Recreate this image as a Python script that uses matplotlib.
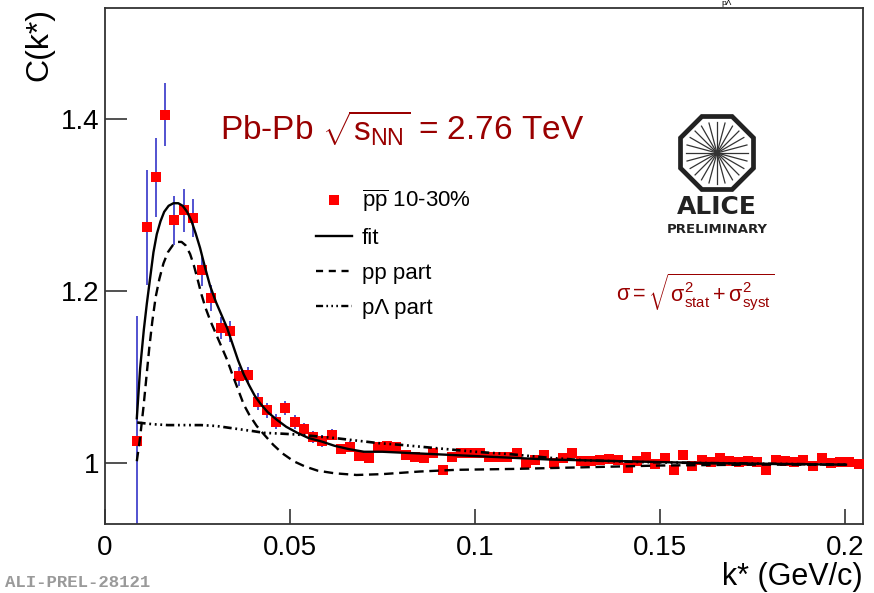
import numpy as np
import matplotlib
matplotlib.use("Agg")
import matplotlib.pyplot as plt
from matplotlib.lines import Line2D
from matplotlib.patches import RegularPolygon

plt.rcParams['font.family'] = ['Liberation Sans', 'DejaVu Sans']
plt.rcParams['mathtext.fontset'] = 'custom'
plt.rcParams['mathtext.rm'] = 'Liberation Sans'
plt.rcParams['mathtext.it'] = 'Liberation Sans:italic'
plt.rcParams['mathtext.bf'] = 'Liberation Sans:bold'

# --- datos ---
k_data = [0.00875, 0.01125, 0.01375, 0.01625, 0.01875, 0.02125, 0.02375, 0.02625, 0.02875, 0.03125,
          0.03375, 0.03625, 0.03875, 0.04125, 0.04375, 0.04625, 0.04875, 0.05125, 0.05375, 0.05625,
          0.05875, 0.06125, 0.06375, 0.06625, 0.06875, 0.07125, 0.07375, 0.07625, 0.07875, 0.08125,
          0.08375, 0.08625, 0.08875, 0.09125, 0.09375, 0.09625, 0.09875, 0.10125, 0.10375, 0.10625,
          0.10875, 0.11125, 0.11375, 0.11625, 0.11875, 0.12125, 0.12375, 0.12625, 0.12875, 0.13125,
          0.13375, 0.13625, 0.13875, 0.14125, 0.14375, 0.14625, 0.14875, 0.15125, 0.15375, 0.15625,
          0.15875, 0.16125, 0.16375, 0.16625, 0.16875, 0.17125, 0.17375, 0.17625, 0.17875, 0.18125,
          0.18375, 0.18625, 0.18875, 0.19125, 0.19375, 0.19625, 0.19875, 0.20125, 0.20375]
c_data = [1.025, 1.274, 1.332, 1.405, 1.282, 1.294, 1.285, 1.224, 1.192, 1.157,
          1.153, 1.101, 1.102, 1.071, 1.061, 1.048, 1.064, 1.048, 1.040, 1.030,
          1.026, 1.033, 1.016, 1.019, 1.0085, 1.0055, 1.018, 1.020, 1.019, 1.009,
          1.007, 1.0055, 1.011, 0.992, 1.007, 1.011, 1.011, 1.011, 1.007, 1.0066,
          1.007, 1.011, 1.000, 1.004, 1.009, 1.000, 1.0055, 1.011, 1.002, 1.002,
          1.004, 1.005, 1.0035, 0.994, 1.002, 1.007, 0.999, 1.0055, 0.992, 1.009,
          0.997, 1.0035, 1.001, 1.0055, 1.002, 1.001, 1.002, 1.001, 0.992, 1.003,
          1.002, 1.001, 1.004, 0.997, 1.006, 1.000, 1.001, 1.001, 0.999]
c_err = [0.146, 0.067, 0.046, 0.037, 0.028, 0.025, 0.022, 0.018, 0.015, 0.013,
         0.012, 0.011, 0.010, 0.010, 0.009, 0.009, 0.008, 0.008, 0.007, 0.007,
         0.007, 0.006, 0.006, 0.006, 0.006, 0.006, 0.005, 0.005, 0.005, 0.005,
         0.005, 0.005, 0.005, 0.005, 0.005, 0.005, 0.005, 0.005, 0.005, 0.005,
         0.005, 0.005, 0.005, 0.005, 0.005, 0.005, 0.005, 0.005, 0.005, 0.005,
         0.005, 0.005, 0.005, 0.005, 0.005, 0.005, 0.005, 0.005, 0.005, 0.005,
         0.005, 0.005, 0.005, 0.005, 0.005, 0.005, 0.005, 0.005, 0.005, 0.005,
         0.005, 0.005, 0.005, 0.005, 0.005, 0.005, 0.005, 0.005, 0.005]

# ajuste total
fit_k = [0.0086, 0.0095, 0.0105, 0.0113, 0.0122, 0.0131, 0.0140, 0.0150, 0.0160, 0.0172,
         0.0185, 0.0198, 0.0210, 0.0222, 0.0234, 0.0245, 0.0257, 0.0270, 0.0284, 0.0300,
         0.0315, 0.0330, 0.0345, 0.0360, 0.0375, 0.0390, 0.0405, 0.0420, 0.0440, 0.0465,
         0.0490, 0.0520, 0.0550, 0.0585, 0.0620, 0.0660, 0.0700, 0.0750, 0.0800, 0.0900,
         0.1000, 0.1100, 0.1200, 0.1400, 0.1600, 0.1800, 0.2003]
fit_c = [1.052, 1.110, 1.155, 1.185, 1.215, 1.245, 1.266, 1.281, 1.292, 1.299,
         1.302, 1.302, 1.299, 1.292, 1.281, 1.267, 1.250, 1.228, 1.206, 1.187,
         1.172, 1.157, 1.138, 1.119, 1.103, 1.090, 1.078, 1.069, 1.059, 1.050,
         1.042, 1.035, 1.029, 1.025, 1.020, 1.016, 1.013, 1.013, 1.012, 1.010,
         1.008, 1.006, 1.004, 1.002, 1.000, 0.999, 0.998]

# parte pp
pp_k = [0.0086, 0.0095, 0.0104, 0.0112, 0.0120, 0.0128, 0.0137, 0.0147, 0.0158, 0.0170,
        0.0183, 0.0196, 0.0207, 0.0218, 0.0230, 0.0240, 0.0250, 0.0260, 0.0272, 0.0285,
        0.0300, 0.0315, 0.0330, 0.0345, 0.0360, 0.0375, 0.0390, 0.0410, 0.0430, 0.0455,
        0.0480, 0.0510, 0.0540, 0.0575, 0.0620, 0.0680, 0.0750, 0.0850, 0.0950, 0.1100,
        0.1300, 0.1500, 0.1750, 0.2003]
pp_c = [1.002, 1.030, 1.065, 1.100, 1.135, 1.165, 1.193, 1.214, 1.232, 1.245,
        1.253, 1.257, 1.257, 1.253, 1.243, 1.230, 1.214, 1.197, 1.180, 1.165,
        1.150, 1.135, 1.120, 1.102, 1.085, 1.068, 1.056, 1.043, 1.033, 1.021,
        1.011, 1.002, 0.996, 0.991, 0.988, 0.986, 0.987, 0.990, 0.992, 0.993,
        0.995, 0.997, 0.998, 0.998]

# parte pLambda
pl_k = [0.0087, 0.0130, 0.0170, 0.0210, 0.0260, 0.0300, 0.0350, 0.0400, 0.0430, 0.0480,
        0.0520, 0.0570, 0.0620, 0.0680, 0.0740, 0.0800, 0.0900, 0.1000, 0.1100, 0.1200,
        0.1300, 0.1450, 0.1600, 0.1800, 0.2003]
pl_c = [1.047, 1.045, 1.044, 1.044, 1.044, 1.043, 1.040, 1.037, 1.035, 1.034,
        1.033, 1.031, 1.029, 1.026, 1.023, 1.021, 1.017, 1.013, 1.010, 1.006,
        1.003, 1.001, 1.000, 0.999, 0.998]

x_ticks = [0, 0.05, 0.1, 0.15, 0.2]
x_ticklabels = ["0", "0.05", "0.1", "0.15", "0.2"]
y_ticks = [1.0, 1.2, 1.4]
y_ticklabels = ["1", "1.2", "1.4"]

W, H = 874, 593
fig = plt.figure(figsize=(W / 100, H / 100), dpi=100)
ax = fig.add_axes([105 / W, 1 - 524 / H, 758 / W, 516 / H])

dark_red = "#990000"
frame = "#333333"

ax.errorbar(k_data, c_data, yerr=c_err, fmt="none", ecolor="#3535c8", elinewidth=1.2, capsize=0, zorder=2)
ax.plot(k_data, c_data, "s", color="#ff0000", markersize=7, markeredgewidth=0, zorder=3)

pp_style = (0, (4, 2.4))
pl_style = (0, (3.2, 1.4, 0.7, 1.4, 0.7, 1.4, 0.7, 1.4))
ax.plot(fit_k, fit_c, "-", color="black", lw=1.7, zorder=4)
ax.plot(pp_k, pp_c, color="black", lw=1.7, linestyle=pp_style, zorder=4)
ax.plot(pl_k, pl_c, color="black", lw=1.9, linestyle=pl_style, zorder=4)

ax.set_xlim(0, 0.2049)
ax.set_ylim(0.929, 1.529)
ax.set_xticks(x_ticks)
ax.set_xticklabels(x_ticklabels)
ax.set_yticks(y_ticks)
ax.set_yticklabels(y_ticklabels)
ax.tick_params(axis="both", direction="in", labelsize=20, colors=frame, labelcolor="black", width=1.2)
ax.tick_params(axis="x", length=11, pad=8)
ax.tick_params(axis="y", length=16, pad=4)
ax.minorticks_off()
for s in ax.spines.values():
    s.set_color(frame)
    s.set_linewidth(1.3)

ax.set_xlabel("k* (GeV/c)", fontsize=22, loc="right", labelpad=1)
ax.set_ylabel("C(k*)", fontsize=23, loc="top", labelpad=5)

# leyenda
handles = [
    Line2D([], [], marker="s", color="#ff0000", linestyle="none", markersize=7, markeredgewidth=0),
    Line2D([], [], color="black", lw=1.7),
    Line2D([], [], color="black", lw=1.7, linestyle=(0, (3, 2.4))),
    Line2D([], [], color="black", lw=1.7, linestyle=(0, (3, 1.4, 0.7, 1.4, 0.7, 1.4, 0.7, 1.4))),
]
labels = [r"$\overline{\mathrm{pp}}$ 10-30%", "fit", "pp part", "pΛ part"]
fig.legend(handles, labels, loc="upper left", bbox_to_anchor=(316 / W, 1 - 188 / H),
           bbox_transform=fig.transFigure, frameon=False, fontsize=16, borderpad=0,
           borderaxespad=0, handlelength=1.6, handletextpad=0.45, labelspacing=0.62)

# textos
fig.text(220 / W, 1 - 128 / H, r"Pb-Pb $\sqrt{\mathrm{s}_{\mathrm{NN}}}$ = 2.76 TeV",
         color=dark_red, fontsize=24, ha="left", va="center")
fig.text(616 / W, 1 - 292 / H,
         r"$\mathrm{σ} = \sqrt{\mathrm{σ}^{2}_{\mathrm{stat}} + \mathrm{σ}^{2}_{\mathrm{syst}}}$",
         color=dark_red, fontsize=15.5, ha="left", va="center")
fig.text(5 / W, 3 / H, "ALI-PREL-28121", color="#9a9a9a", fontsize=12.5,
         family="Liberation Mono", fontweight="bold", ha="left", va="bottom")
fig.text(727 / W, 1.0, "pΛ", color="black", fontsize=6, ha="center", va="top")

# logo ALICE
logo = fig.add_axes([(717 - 48) / W, 1 - (153 + 48) / H, 96 / W, 96 / H])
logo.set_xlim(-48, 48)
logo.set_ylim(-48, 48)
logo.axis("off")
logo.add_patch(RegularPolygon((0, 0), 8, radius=39.5, orientation=np.pi / 8,
                              facecolor="none", edgecolor="#222222", lw=3.4))
for a in np.linspace(0, 2 * np.pi, 24, endpoint=False):
    logo.plot([0, 31 * np.cos(a)], [0, 31 * np.sin(a)], color="#333333", lw=0.9)
fig.text(717 / W, 1 - 207 / H, "ALICE", color="#222222", fontsize=18, fontweight="bold",
         family="DejaVu Sans", ha="center", va="center")
fig.text(717 / W, 1 - 229.5 / H, "PRELIMINARY", color="#222222", fontsize=9.5, fontweight="bold",
         family="DejaVu Sans", ha="center", va="center")

fig.savefig("out.png", dpi=100)
plt.close(fig)
print("Grafico guardado en: out.png")
